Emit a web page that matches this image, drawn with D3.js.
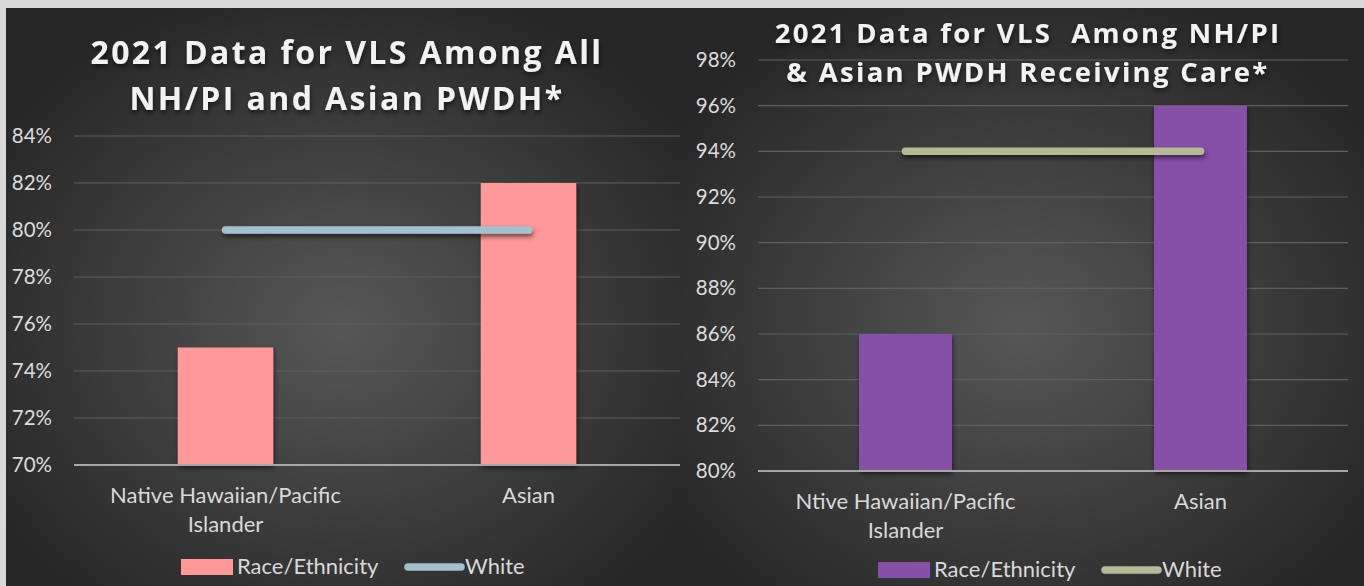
<!DOCTYPE html>
<html>
<head>
<meta charset="utf-8">
<script src="https://cdn.jsdelivr.net/npm/d3@7"></script>
<style>
  body { margin: 0; background: #d9d9d9; }
  svg { display: block; }
  .tick text { font-family: Lato, "Open Sans", sans-serif; }
</style>
</head>
<body>
<svg id="chart" width="1364" height="586"></svg>
<script>
// data
var allCategories = ["Native Hawaiian/Pacific Islander", "Asian"];
var allRace = [75, 82];
var allWhite = [80, 80];
var allTicks = [70, 72, 74, 76, 78, 80, 82, 84];

var careCategories = ["Ntive Hawaiian/Pacific Islander", "Asian"];
var careRace = [86, 96];
var careWhite = [94, 94];
var careTicks = [80, 82, 84, 86, 88, 90, 92, 94, 96, 98];

var svg = d3.select("#chart");
var defs = svg.append("defs");

// soft shadow used on bars, lines and titles (user space so flat lines keep it)
var sh = defs.append("filter").attr("id", "shadow")
    .attr("filterUnits", "userSpaceOnUse")
    .attr("x", 0).attr("y", 0).attr("width", 1364).attr("height", 586);
sh.append("feDropShadow").attr("dx", 1).attr("dy", 3).attr("stdDeviation", 2.5)
    .attr("flood-color", "#000").attr("flood-opacity", 0.55);

function drawPanel(opt){
	var grad = defs.append("radialGradient").attr("id", "bg" + opt.id)
	    .attr("cx", "50%").attr("cy", "55%").attr("r", "62%");
	grad.append("stop").attr("offset", "0%").attr("stop-color", "#575757");
	grad.append("stop").attr("offset", "100%").attr("stop-color", "#262626");

	var g = svg.append("g").attr("class", "panel-" + opt.id);
	g.append("rect")
	    .attr("x", opt.px).attr("y", opt.py)
	    .attr("width", opt.pw).attr("height", opt.ph)
	    .attr("fill", "url(#bg" + opt.id + ")");

	var x = d3.scaleBand()
	    .domain(opt.categories)
	    .range([opt.x0, opt.x1])
	    .paddingInner(0).paddingOuter(0);

	var y = d3.scaleLinear()
	    .domain([opt.ticks[0], opt.ticks[opt.ticks.length - 1]])
	    .range([opt.y0, opt.y1]);

	// gridlines
	g.append("g").selectAll("line")
	    .data(opt.ticks.slice(1))
	    .enter().append("line")
	    .attr("x1", opt.x0).attr("x2", opt.x1)
	    .attr("y1", function(d){ return y(d); })
	    .attr("y2", function(d){ return y(d); })
	    .attr("stroke", "#5f5f5f").attr("stroke-width", 1.2);

	var yAxis = g.append("g")
	    .attr("transform", "translate(" + opt.x0 + ",0)")
	    .call(d3.axisLeft(y).tickValues(opt.ticks).tickSize(0).tickPadding(opt.tickPad)
	        .tickFormat(function(d){ return d + "%"; }));
	yAxis.select(".domain").remove();
	yAxis.selectAll("text").attr("fill", "#dcdcdc").style("font-size", "20.5px");

	var bw = x.bandwidth() * opt.barFrac;

	g.append("g").selectAll("rect")
	    .data(opt.race)
	    .enter().append("rect")
	    .attr("x", function(d, i){ return x(opt.categories[i]) + (x.bandwidth() - bw) / 2; })
	    .attr("y", function(d){ return y(d); })
	    .attr("width", bw)
	    .attr("height", function(d){ return opt.y0 - y(d); })
	    .attr("fill", opt.barColor)
	    .attr("filter", "url(#shadow)");

	// axis baseline
	g.append("line")
	    .attr("x1", opt.x0).attr("x2", opt.x1)
	    .attr("y1", opt.y0).attr("y2", opt.y0)
	    .attr("stroke", "#a6a6a6").attr("stroke-width", 2);

	var line = d3.line()
	    .x(function(d, i){ return x(opt.categories[i]) + x.bandwidth() / 2; })
	    .y(function(d){ return y(d); });

	g.append("path")
	    .datum(opt.white)
	    .attr("d", line)
	    .attr("fill", "none")
	    .attr("stroke", opt.lineColor)
	    .attr("stroke-width", 7.5)
	    .attr("stroke-linecap", "round")
	    .attr("filter", "url(#shadow)");

	// category labels, two lines under the first
	opt.categories.forEach(function(c, i){
		var cx = x(c) + x.bandwidth() / 2;
		var parts = c === "Asian" ? [c] : [c.replace(" Islander", ""), "Islander"];
		var t = g.append("text")
		    .attr("x", cx).attr("y", opt.catY)
		    .attr("text-anchor", "middle")
		    .attr("fill", "#d9d9d9")
		    .style("font-family", "Lato, 'Open Sans', sans-serif")
		    .style("font-size", "22px");
		parts.forEach(function(p, k){
			t.append("tspan").attr("x", cx).attr("dy", k === 0 ? 0 : 29).text(p);
		});
	});

	// title
	var tt = g.append("text")
	    .attr("text-anchor", "middle")
	    .attr("fill", "#f2f2f2")
	    .attr("filter", "url(#shadow)")
	    .style("font-family", "'Open Sans', sans-serif")
	    .style("font-weight", "bold")
	    .style("font-size", opt.titleSize + "px")
	    .style("letter-spacing", opt.titleSpace + "px");
	opt.title.forEach(function(s, k){
		tt.append("tspan").attr("x", opt.titleX).attr("y", opt.titleY[k])
		    .attr("xml:space", "preserve").text(s);
	});

	// legend
	var lg = g.append("g").attr("transform", "translate(" + opt.legX + "," + opt.legY + ")");
	lg.append("rect").attr("x", 0).attr("y", -8).attr("width", 52).attr("height", 16)
	    .attr("fill", opt.barColor);
	lg.append("text").attr("x", 56).attr("y", 7).text("Race/Ethnicity")
	    .attr("fill", "#d9d9d9")
	    .style("font-family", "Lato, 'Open Sans', sans-serif").style("font-size", "22px");
	lg.append("line").attr("x1", 227).attr("x2", 280).attr("y1", 0).attr("y2", 0)
	    .attr("stroke", opt.lineColor).attr("stroke-width", 7.5).attr("stroke-linecap", "round");
	lg.append("text").attr("x", 284).attr("y", 7).text("White")
	    .attr("fill", "#d9d9d9")
	    .style("font-family", "Lato, 'Open Sans', sans-serif").style("font-size", "22px");
}

drawPanel({
	id: "all", px: 6, py: 8, pw: 674, ph: 578,
	categories: allCategories, race: allRace, white: allWhite, ticks: allTicks,
	x0: 74, x1: 680, y0: 465, y1: 136, tickPad: 22, barFrac: 0.315,
	barColor: "#ff9898", lineColor: "#a5c0cd",
	title: ["2021 Data for VLS Among All", "NH/PI and Asian PWDH*"],
	titleX: 347, titleY: [64, 110], titleSize: 32, titleSpace: 2.4,
	catY: 503, legX: 181, legY: 567
});

drawPanel({
	id: "care", px: 680, py: 8, pw: 684, ph: 578,
	categories: careCategories, race: careRace, white: careWhite, ticks: careTicks,
	x0: 758, x1: 1348, y0: 471, y1: 60, tickPad: 22, barFrac: 0.315,
	barColor: "#8650a8", lineColor: "#b6b996",
	title: ["2021 Data for VLS  Among NH/PI", "& Asian PWDH Receiving Care*"],
	titleX: 1028, titleY: [43, 82], titleSize: 27.5, titleSpace: 2.3,
	catY: 509, legX: 878, legY: 570
});
</script>
</body>
</html>
